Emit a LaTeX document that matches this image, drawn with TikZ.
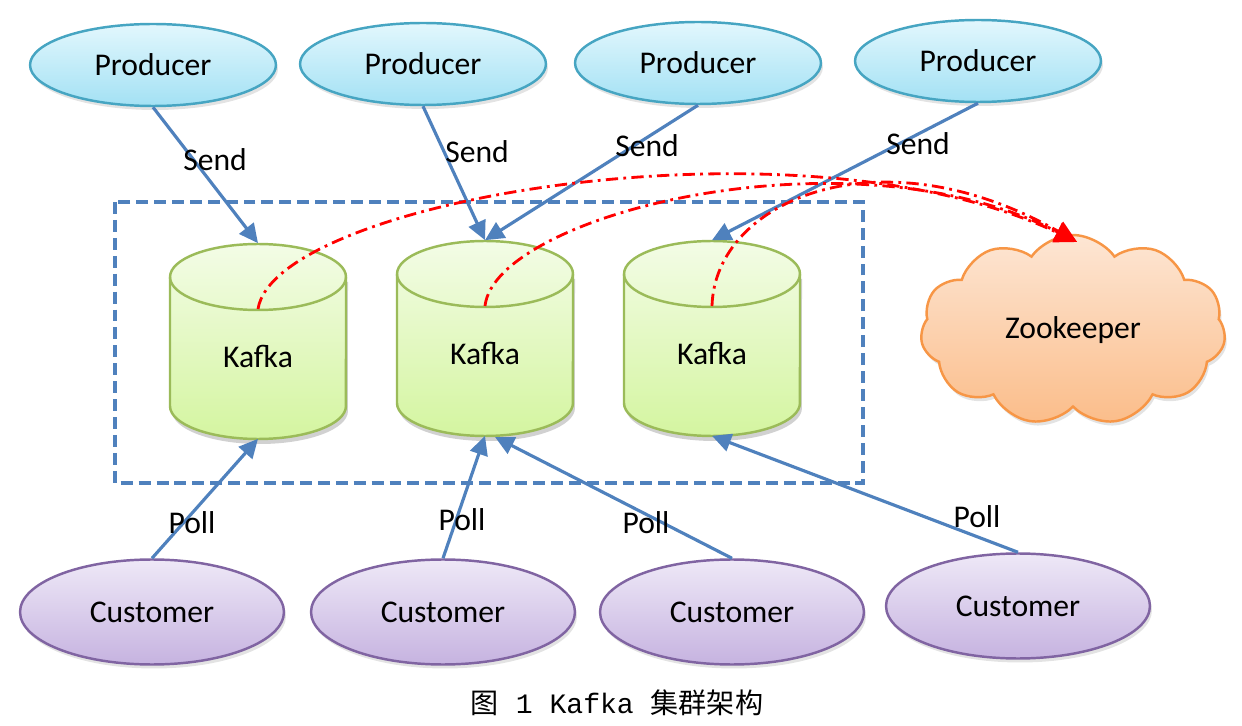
\documentclass[tikz,border=0pt]{standalone}
\usepackage{fontspec}
\setmainfont{Carlito}
\newfontfamily\cjk{Noto Sans CJK SC}
\newfontfamily\capmono{Liberation Mono}
\usetikzlibrary{arrows.meta,shapes.geometric,shapes.symbols,shadows}
\definecolor{prodline}{HTML}{46A5C2}
\definecolor{prodtop}{HTML}{E2F7FD}
\definecolor{prodbot}{HTML}{A3E1F4}
\definecolor{custline}{HTML}{8064A2}
\definecolor{custtop}{HTML}{EEE8F7}
\definecolor{custbot}{HTML}{C6B3E0}
\definecolor{kafline}{HTML}{9BBB59}
\definecolor{kaftop}{HTML}{F3FCE6}
\definecolor{kafbot}{HTML}{D4F5A0}
\definecolor{zkline}{HTML}{F79646}
\definecolor{zktop}{HTML}{FDE6D4}
\definecolor{zkbot}{HTML}{FBBD8A}
\definecolor{flow}{HTML}{4F81BD}
\begin{document}
\begin{tikzpicture}[x=0.02cm, y=-0.02cm, >={Triangle[length=0.38cm,width=0.36cm]},
    font=\fontsize{18}{21}\selectfont,
    softshadow/.style={drop shadow={opacity=.22,shadow xshift=.04cm,shadow yshift=-.08cm}},
    producer/.style={ellipse, draw=prodline, line width=1.4pt, top color=prodtop, bottom color=prodbot,
        minimum width=4.92cm, minimum height=1.64cm, inner sep=0pt, softshadow},
    customer/.style={ellipse, draw=custline, line width=1.4pt, top color=custtop, bottom color=custbot,
        minimum width=5.28cm, minimum height=2.1cm, inner sep=0pt, softshadow},
    kafka/.style={minimum width=3.52cm, minimum height=3.9cm, inner sep=0pt, text height=1.08cm, text depth=0pt},
    flowline/.style={draw=flow, line width=1.8pt, ->},
    zkline/.style={red, line width=1.6pt, dash pattern=on 7pt off 3pt on 1.6pt off 3pt,
        -{Triangle[length=0.44cm,width=0.42cm]}}]
    \useasboundingbox (0,0) rectangle (1242,726);
    % producers and customers
    \foreach \i/\x/\y in {1/153/65, 2/423/64, 3/698/63, 4/978/61}
    {
        \node[producer] (p\i) at (\x,\y) {Producer};
    }
    \foreach \i/\x/\y in {1/152/612, 2/443/612, 3/732/612, 4/1018/606}
    {
        \node[customer] (c\i) at (\x,\y) {Customer};
    }
    % kafka cluster
    \draw[flow, line width=2pt, dash pattern=on 6.8pt off 3.4pt] (115,202) rectangle (863,483);
    \foreach \i/\x/\y in {1/258/244, 2/485/241, 3/712/241}
    {
        \fill[black, opacity=.18] (\x-86,\y+38) -- (\x-86,\y+167)
            arc[start angle=180, end angle=360, x radius=1.76cm, y radius=.66cm] -- (\x+90,\y+38) -- cycle;
        \draw[kafline, line width=1.4pt, top color=kaftop, bottom color=kafbot]
            (\x-88,\y+33) -- (\x-88,\y+162)
            arc[start angle=180, end angle=360, x radius=1.76cm, y radius=.66cm]
            -- (\x+88,\y+33)
            arc[start angle=0, end angle=180, x radius=1.76cm, y radius=.66cm] -- cycle;
        \draw[kafline, line width=1.4pt] (\x-88,\y+33)
            arc[start angle=180, end angle=360, x radius=1.76cm, y radius=.66cm];
        \node[kafka] (k\i) at (\x,\y+97) {Kafka};
        \coordinate (k\i z) at (\x,\y+65);
    }
    \node[cloud, cloud puffs=11, cloud puff arc=110, cloud ignores aspect, draw=zkline, line width=1.4pt,
        top color=zktop, bottom color=zkbot, minimum width=6.1cm, minimum height=3.8cm, softshadow]
        (zk) at (1073,330) {Zookeeper};
    \coordinate (zkin) at (1077,242);
    % send and poll
    \draw[flowline] (p1.south) -- (k1.north);
    \draw[flowline] (p2.south) -- (k2.north);
    \draw[flowline] (p3.south) -- (k2.north);
    \draw[flowline] (p4.south) -- (k3.north);
    \coordinate (k2in) at (495,437);
    \draw[flowline] (c1.north) -- (k1.south);
    \draw[flowline] (c2.north) -- (k2.south);
    \draw[flowline] (c3.north) -- (k2in);
    \draw[flowline] (c4.north) -- (k3.south);
    \node (s1) at (215,160) {Send};
    \node (s2) at (477,152) {Send};
    \node (s3) at (647,146) {Send};
    \node (s4) at (918,144) {Send};
    \node (q1) at (192,523) {Poll};
    \node (q2) at (462,520) {Poll};
    \node (q3) at (646,523) {Poll};
    \node (q4) at (977,517) {Poll};
    % registration with zookeeper
    \draw[zkline] (k1z) .. controls (275,200) and (800,110) .. (zkin);
    \draw[zkline] (k2z) .. controls (495,215) and (850,125) .. (zkin);
    \draw[zkline] (k3z) .. controls (715,200) and (880,130) .. (zkin);
    \node[font=\fontsize{16}{18}\selectfont] (cap) at (617,703) {\cjk 图{\capmono\ 1 Kafka\ }集群架构};
\end{tikzpicture}
\end{document}
